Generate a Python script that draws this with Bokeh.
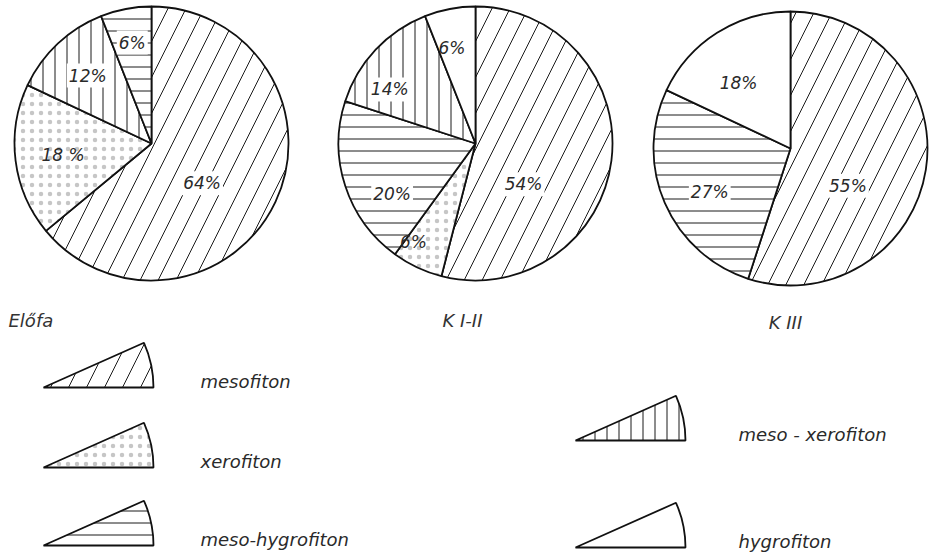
import math
from bokeh.plotting import figure
from bokeh.models import Range1d, ColumnDataSource
from bokeh.core.properties import value
from bokeh.embed import file_html
from bokeh.resources import INLINE

# ---------------- data ----------------
pie_titles = ["Előfa", "K I-II", "K III"]

elofa_types = ["mesofiton", "xerofiton", "meso-xerofiton", "meso-hygrofiton"]
elofa_pct = [64, 18, 12, 6]
elofa_labels = ["64%", "18 %", "12%", "6%"]

k12_types = ["mesofiton", "xerofiton", "meso-hygrofiton", "meso-xerofiton", "hygrofiton"]
k12_pct = [54, 6, 20, 14, 6]
k12_labels = ["54%", "6%", "20%", "14%", "6%"]

k3_types = ["mesofiton", "meso-hygrofiton", "hygrofiton"]
k3_pct = [55, 27, 18]
k3_labels = ["55%", "27%", "18%"]

legend_left_types = ["mesofiton", "xerofiton", "meso-hygrofiton"]
legend_left_names = ["mesofiton", "xerofiton", "meso-hygrofiton"]
legend_right_types = ["meso-xerofiton", "hygrofiton"]
legend_right_names = ["meso - xerofiton", "hygrofiton"]

# ---------------- layout / styles ----------------
W, H = 931, 557
def X(px):  # image pixel -> data
    return px
def Y(py):
    return H - py

pie_centers = [(151, 143), (475, 143), (790, 148)]
pie_radius = 137
# label placement: (radius fraction, clockwise angle shift in degrees)
label_place = [
    [(0.47, 13), (0.65, 0), (0.68, 0), (0.75, 0)],
    [(0.46, 33), (0.85, 7), (0.71, -13), (0.74, -11), (0.72, -3)],
    [(0.50, 24), (0.67, -5), (0.61, -6)],
]
label_bg = {
    "mesofiton": True, "xerofiton": False, "meso-xerofiton": True,
    "meso-hygrofiton": True, "hygrofiton": False,
}
title_pos = [(8, 320, "left"), (462, 320, "center"), (785, 322, "center")]

STYLE = {
    "mesofiton":       dict(hatch="/", scale=36.0, color="#1a1a1a", weight=1.0),
    "xerofiton":       dict(hatch=".", scale=9.0, color="#c6c6c6", weight=0.6),
    "meso-xerofiton":  dict(hatch="|", scale=12.0, color="#1a1a1a", weight=1.0),
    "meso-hygrofiton": dict(hatch="-", scale=12.0, color="#1a1a1a", weight=1.0),
    "hygrofiton":      dict(hatch=" ", scale=12.0, color="#1a1a1a", weight=1.0),
}
INK = "#111111"
FONT = value("DejaVu Sans")

p = figure(width=W, height=H, x_range=Range1d(0, W), y_range=Range1d(0, H),
           output_backend="svg", toolbar_location=None, min_border=0,
           x_axis_location=None, y_axis_location=None)
p.grid.visible = False
p.outline_line_color = None
p.background_fill_color = "white"
p.border_fill_color = "white"

pies = [(elofa_types, elofa_pct, elofa_labels),
        (k12_types, k12_pct, k12_labels),
        (k3_types, k3_pct, k3_labels)]

for (types, pct, labels), (cx, cy), places, title, tpos in zip(
        pies, pie_centers, label_place, pie_titles, title_pos):
    total = float(sum(pct))
    starts, ends, lx, ly = [], [], [], []
    cum = 0.0
    for v, (rf, shift) in zip(pct, places):
        a0 = cum / total * 360.0
        cum += v
        a1 = cum / total * 360.0
        starts.append(math.radians(90 - a0))
        ends.append(math.radians(90 - a1))
        mid = (a0 + a1) / 2 + shift
        ang = math.radians(90 - mid)
        lx.append(X(cx) + rf * pie_radius * math.cos(ang))
        ly.append(Y(cy) + rf * pie_radius * math.sin(ang))
    src = ColumnDataSource(dict(
        x=[X(cx)] * len(pct), y=[Y(cy)] * len(pct),
        start=starts, end=ends,
        hatch=[STYLE[t]["hatch"] for t in types],
        hscale=[STYLE[t]["scale"] for t in types],
        hcolor=[STYLE[t]["color"] for t in types],
        hweight=[STYLE[t]["weight"] for t in types],
    ))
    p.wedge(x="x", y="y", radius=pie_radius, start_angle="start", end_angle="end",
            direction="clock", fill_color="white", line_color=INK, line_width=1.8,
            hatch_pattern="hatch", hatch_scale="hscale", hatch_color="hcolor",
            hatch_weight="hweight", source=src)
    bg = ["white" if label_bg[t] else None for t in types]
    lsrc = ColumnDataSource(dict(x=lx, y=ly, text=labels, bg=bg))
    p.text(x="x", y="y", text="text", source=lsrc, text_font=FONT,
           text_font_style="italic", text_font_size="17px", text_color="#2a2a2a",
           text_align="center", text_baseline="middle",
           background_fill_color="bg", padding=2)
    p.text(x=[X(tpos[0])], y=[Y(tpos[1])], text=[title], text_font=FONT,
           text_font_style="italic", text_font_size="18px", text_color="#333333",
           text_align=tpos[2], text_baseline="middle")

# ---------------- legend ----------------
leg_r = 110
leg_angle = 24
left_tips = [(43, 387), (43, 467), (43, 545)]
right_tips = [(575, 440), (575, 547)]
left_text_x, right_text_x = 200, 738
text_dy = -6

def legend_block(types, names, tips, tx):
    src = ColumnDataSource(dict(
        x=[X(t[0]) for t in tips], y=[Y(t[1]) for t in tips],
        hatch=[STYLE[t]["hatch"] for t in types],
        hscale=[STYLE[t]["scale"] for t in types],
        hcolor=[STYLE[t]["color"] for t in types],
        hweight=[STYLE[t]["weight"] for t in types],
    ))
    p.wedge(x="x", y="y", radius=leg_r, start_angle=0,
            end_angle=math.radians(leg_angle), fill_color="white",
            line_color=INK, line_width=1.8,
            hatch_pattern="hatch", hatch_scale="hscale", hatch_color="hcolor",
            hatch_weight="hweight", source=src)
    p.text(x=[X(tx)] * len(names), y=[Y(t[1]) - text_dy for t in tips],
           text=names, text_font=FONT, text_font_style="italic",
           text_font_size="18px", text_color="#2a2a2a",
           text_align="left", text_baseline="middle")

legend_block(legend_left_types, legend_left_names, left_tips, left_text_x)
legend_block(legend_right_types, legend_right_names, right_tips, right_text_x)

open("out.html", "w").write(file_html(p, INLINE))
